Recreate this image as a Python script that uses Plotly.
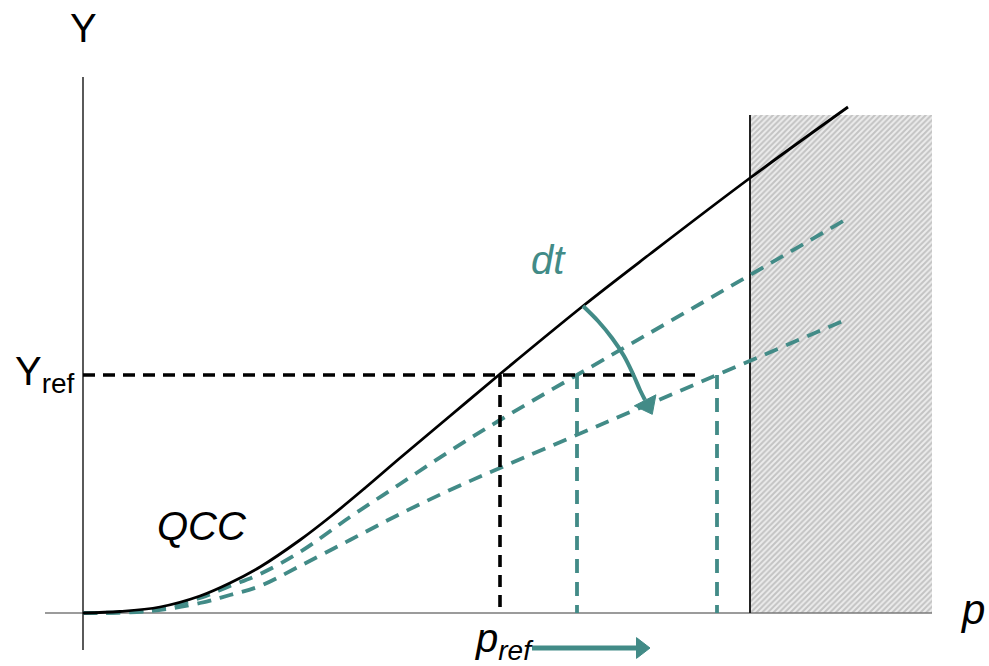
import plotly.graph_objects as go

# Output Y against production p: quality-constrained curve and its drift with time
p_curve = [0, 0.37, 0.77, 1.17, 1.47, 1.77, 2.17, 2.47, 2.82, 3.17, 3.67, 4.17, 5.00, 5.67, 6.67, 7.65]
y_curve = [0, 0.015, 0.06, 0.17, 0.30, 0.46, 0.73, 0.96, 1.25, 1.55, 1.97, 2.39, 3.07, 3.59, 4.35, 5.06]

p_shift1 = [0, 0.67, 1.17, 1.47, 1.77, 2.17, 2.67, 3.17, 3.67, 4.17, 4.94, 6.17, 7.62]
y_shift1 = [0, 0.03, 0.15, 0.27, 0.39, 0.61, 0.96, 1.29, 1.62, 1.93, 2.38, 3.09, 3.93]

p_shift2 = [0, 0.67, 1.17, 1.47, 1.77, 2.17, 2.67, 3.17, 3.67, 4.17, 5.17, 6.34, 7.62]
y_shift2 = [0, 0.02, 0.10, 0.18, 0.27, 0.47, 0.73, 0.99, 1.23, 1.45, 1.88, 2.38, 2.93]

y_ref = 2.38
p_ref = 4.17
p_ref_shifted = [4.94, 6.34]
p_ref_line_end = 6.2
p_limit = 6.67
p_axis = [-0.38, 8.49]
y_axis = [-0.37, 5.36]
hatch_top = 4.98

# curved "dt" arrow: shaft and head
p_dt = [5.00, 5.15, 5.29, 5.41, 5.50, 5.57, 5.62]
y_dt = [3.07, 2.92, 2.75, 2.57, 2.39, 2.23, 2.13]
dt_head = (5.645, 2.08)

# horizontal arrow under p_ref: shaft and head
arrow_p = [4.49, 5.58]
arrow_y = -0.35

TEAL = "#428b87"
FONT = "Liberation Sans"

fig = go.Figure()

# infeasible region beyond the limit
fig.add_trace(go.Scatter(
    x=[p_limit, p_axis[1], p_axis[1], p_limit, p_limit],
    y=[0, 0, hatch_top, hatch_top, 0],
    mode="lines", fill="toself", line=dict(width=0),
    fillcolor="white",
    fillpattern=dict(shape="/", size=4, solidity=0.5, fgcolor="#9a9a9a", bgcolor="#ececec"),
    hoverinfo="skip"))

# axes
fig.add_trace(go.Scatter(x=p_axis, y=[0, 0], mode="lines",
                         line=dict(color="#7a7a7a", width=1.6), hoverinfo="skip"))
fig.add_trace(go.Scatter(x=[0, 0], y=y_axis, mode="lines",
                         line=dict(color="black", width=1.3), hoverinfo="skip"))
fig.add_trace(go.Scatter(x=[p_limit, p_limit], y=[0, hatch_top], mode="lines",
                         line=dict(color="#222222", width=2), hoverinfo="skip"))

# shifted curves
for px, py in [(p_shift1, y_shift1), (p_shift2, y_shift2)]:
    fig.add_trace(go.Scatter(x=px, y=py, mode="lines",
                             line=dict(color=TEAL, width=3.8, dash="14px,9px", shape="spline"),
                             hoverinfo="skip"))

# reference guides
fig.add_trace(go.Scatter(x=[0, p_ref_line_end], y=[y_ref, y_ref], mode="lines",
                         line=dict(color="black", width=3.6, dash="12px,8px"), hoverinfo="skip"))
fig.add_trace(go.Scatter(x=[p_ref, p_ref], y=[y_ref, 0], mode="lines",
                         line=dict(color="black", width=3.6, dash="12px,8px"), hoverinfo="skip"))
for pv in p_ref_shifted:
    fig.add_trace(go.Scatter(x=[pv, pv], y=[y_ref, 0], mode="lines",
                             line=dict(color=TEAL, width=3.8, dash="14px,9px"), hoverinfo="skip"))

# main curve
fig.add_trace(go.Scatter(x=p_curve, y=y_curve, mode="lines",
                         line=dict(color="black", width=2.8, shape="spline"), hoverinfo="skip"))

# dt arrow
fig.add_trace(go.Scatter(x=p_dt, y=y_dt, mode="lines",
                         line=dict(color=TEAL, width=4, shape="spline"), hoverinfo="skip"))
fig.add_trace(go.Scatter(
    x=[dt_head[0]], y=[dt_head[1]], mode="markers",
    marker=dict(symbol="triangle-up", angle=153, color=TEAL, size=21, opacity=1,
                line=dict(width=1, color=TEAL)),
    hoverinfo="skip"))

# shift arrow along p
fig.add_trace(go.Scatter(x=arrow_p, y=[arrow_y, arrow_y], mode="lines",
                         line=dict(color=TEAL, width=5), hoverinfo="skip"))
fig.add_trace(go.Scatter(
    x=[arrow_p[-1]], y=[arrow_y], mode="markers",
    marker=dict(symbol="triangle-up", angle=90, color=TEAL, size=18, opacity=1,
                line=dict(width=1, color=TEAL)),
    hoverinfo="skip"))

annotations = [
    dict(x=0, y=5.85, text="Y", showarrow=False, xanchor="center", yanchor="middle",
         font=dict(family=FONT, size=40, color="black")),
    dict(x=-0.06, y=y_ref + 0.01, text="Y<sub>ref</sub>", showarrow=False,
         xanchor="right", yanchor="middle", font=dict(family=FONT, size=40, color="black")),
    dict(x=3.90, y=-0.28, text="<i>p<sub>ref</sub></i>", showarrow=False,
         xanchor="left", yanchor="middle", font=dict(family=FONT, size=40, color="black")),
    dict(x=8.89, y=0.04, text="<i>p</i>", showarrow=False,
         xanchor="center", yanchor="middle", font=dict(family=FONT, size=42, color="black")),
    dict(x=1.19, y=0.87, text="<i>QCC</i>", showarrow=False,
         xanchor="center", yanchor="middle", font=dict(family=FONT, size=40, color="black")),
    dict(x=4.65, y=3.53, text="<i>dt</i>", showarrow=False,
         xanchor="center", yanchor="middle", font=dict(family=FONT, size=40, color=TEAL)),
]

fig.update_layout(
    width=989, height=666,
    margin=dict(l=0, r=0, t=0, b=0),
    paper_bgcolor="white", plot_bgcolor="white",
    showlegend=False,
    xaxis=dict(range=[-0.83, 9.06], visible=False, fixedrange=True),
    yaxis=dict(range=[-0.53, 6.13], visible=False, fixedrange=True),
    annotations=annotations,
)

fig.write_html("out.html")
